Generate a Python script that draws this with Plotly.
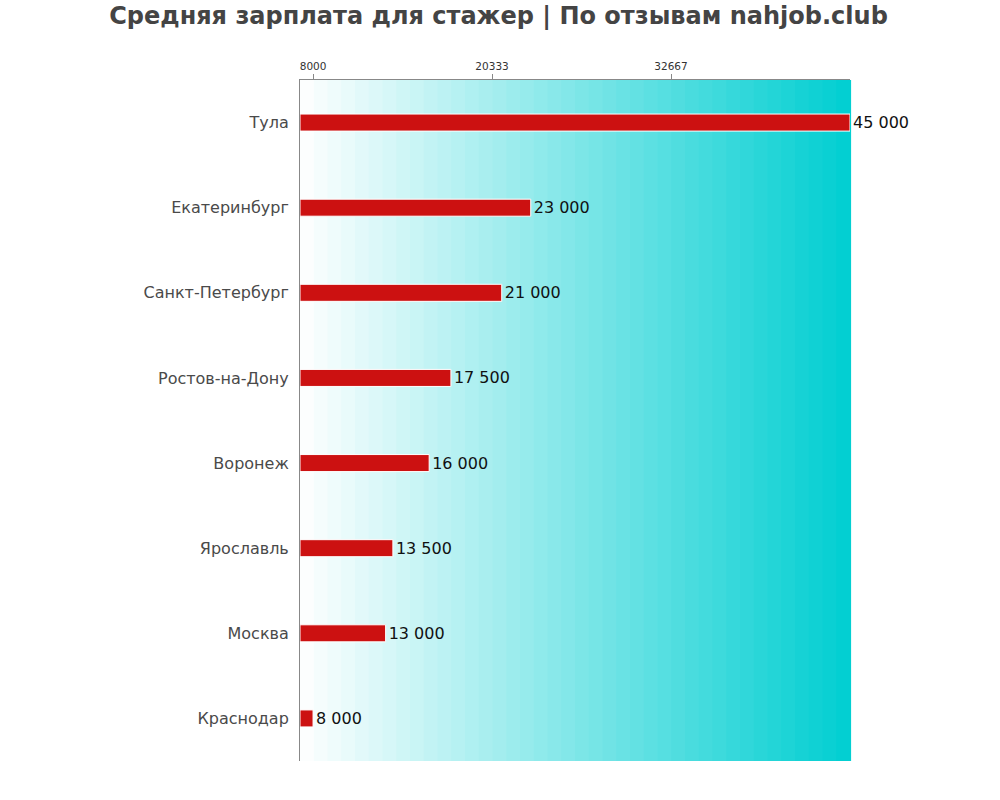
import plotly.graph_objects as go

cities = ["Тула", "Екатеринбург", "Санкт-Петербург", "Ростов-на-Дону",
          "Воронеж", "Ярославль", "Москва", "Краснодар"]
salaries = [45000, 23000, 21000, 17500, 16000, 13500, 13000, 8000]
tick_vals = [8000, 20333, 32667]
tick_text = ["8000", "20333", "32667"]
x_min = 7100
x_max = 45000

fig = go.Figure()
fig.add_trace(go.Bar(
    y=cities, x=[s - x_min for s in salaries], base=x_min, orientation="h",
    marker=dict(color="#CC1111", line=dict(color="white", width=1)),
    width=0.2,
    text=[f"{s:,}".replace(",", " ") for s in salaries],
    textposition="outside", cliponaxis=False, constraintext="none",
    textfont=dict(family="DejaVu Sans", size=16, color="#111111"),
    hoverinfo="skip",
))

# gradient background
n = 40
c0 = (255, 255, 255)
c1 = (0, 206, 209)
shapes = []
for i in range(n):
    t = (i + 0.5) / n
    col = tuple(round(c0[k] + (c1[k] - c0[k]) * t) for k in range(3))
    shapes.append(dict(type="rect", xref="paper", yref="paper",
                       x0=i / n, x1=(i + 1) / n + 0.002, y0=0, y1=1,
                       fillcolor="rgb(%d,%d,%d)" % col, line=dict(width=0),
                       layer="below"))

fig.update_layout(
    width=1000, height=800,
    margin=dict(l=300, r=150, t=80, b=39),
    paper_bgcolor="white", plot_bgcolor="white",
    shapes=shapes,
    showlegend=False,
    title=dict(text="<b>Средняя зарплата для стажер | По отзывам nahjob.club</b>",
               x=0.4985, xanchor="center", y=0.981, yanchor="middle",
               font=dict(family="DejaVu Sans", size=24, color="#444444")),
    xaxis=dict(range=[x_min, x_max], side="top", tickvals=tick_vals, ticktext=tick_text,
               ticks="outside", ticklen=5, tickcolor="#888888",
               tickfont=dict(family="DejaVu Sans", size=10.5, color="#333333"),
               showgrid=False, zeroline=False, showline=True, linecolor="#888888",
               linewidth=1, fixedrange=True),
    yaxis=dict(autorange="reversed", showgrid=False, zeroline=False,
               showline=True, linecolor="#888888", linewidth=1,
               ticks="", ticklabelstandoff=7,
               tickfont=dict(family="DejaVu Sans", size=16, color="#4a4a4a"),
               fixedrange=True),
)

fig.write_html("out.html")
